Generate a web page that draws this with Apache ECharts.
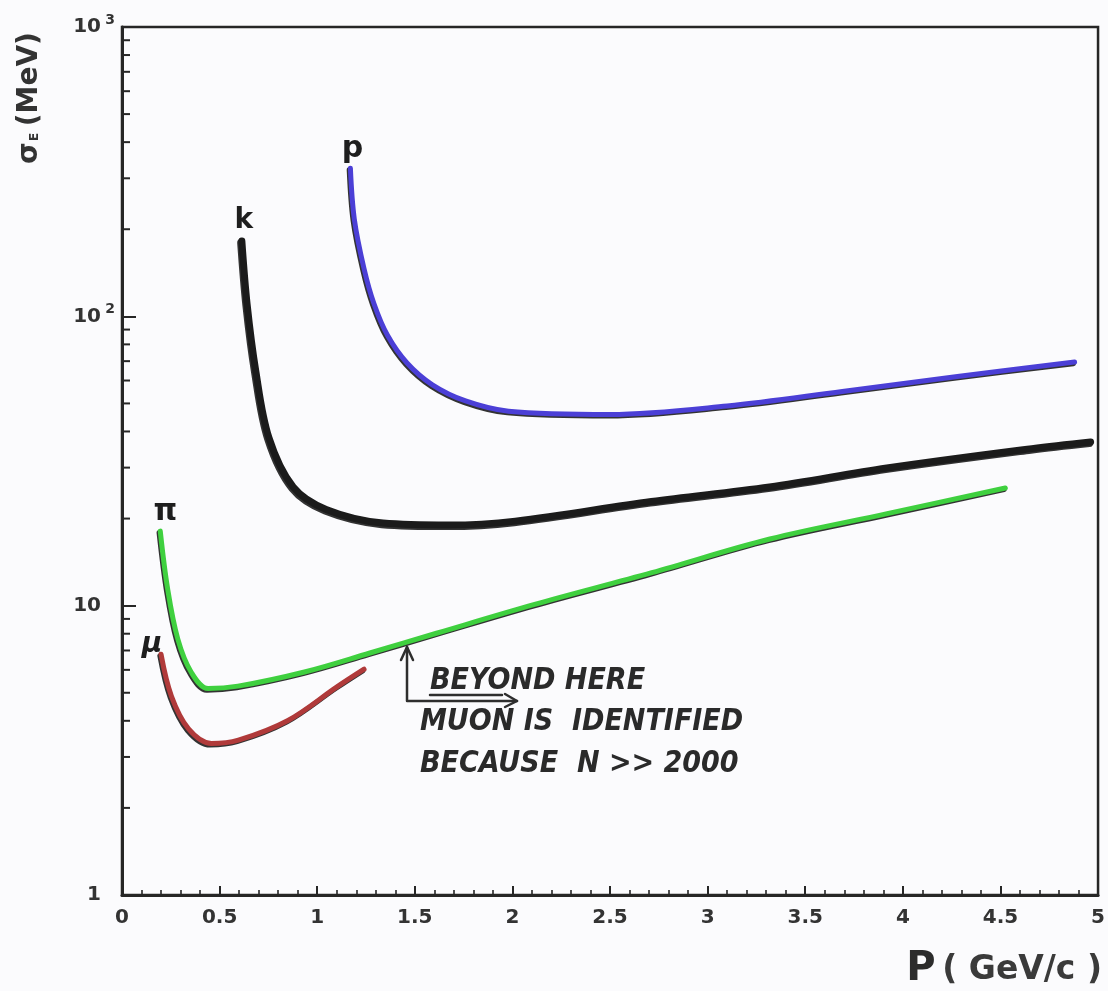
<!DOCTYPE html>
<html>
<head>
<meta charset="utf-8">
<script src="https://cdn.jsdelivr.net/npm/echarts@6/dist/echarts.min.js"></script>
<style>
  html, body { margin: 0; padding: 0; background: #fbfbfd; }
  #chart { width: 1108px; height: 991px; }
</style>
</head>
<body>
<div id="chart"></div>
<script>
// Energy resolution sigma_E (MeV) versus momentum P (GeV/c) for each particle type.
const protonCurve = [[1.17, 325], [1.19, 217], [1.24, 146], [1.29, 111], [1.36, 86], [1.46, 69],
  [1.59, 58], [1.76, 51], [1.98, 47], [2.5, 45.8], [3.1, 49], [3.69, 55], [4.28, 62], [4.88, 69.5]];
const kaonCurve = [[0.614, 182], [0.641, 110], [0.685, 65], [0.753, 38], [0.877, 25.7], [1.046, 21.5],
  [1.337, 19.3], [1.673, 19.0], [2.015, 19.6], [2.712, 22.9], [3.317, 25.7], [3.918, 29.9], [4.661, 34.9], [4.962, 36.8]];
const pionCurve = [[0.196, 18.1], [0.234, 11.4], [0.286, 7.66], [0.354, 5.9], [0.441, 5.17], [0.594, 5.27],
  [0.935, 5.9], [1.27, 6.86], [1.611, 8.03], [2.114, 10.1], [2.714, 13.0], [3.319, 17.0], [3.92, 20.8], [4.525, 25.5]];
const muonCurve = [[0.2, 6.79], [0.253, 4.87], [0.341, 3.75], [0.458, 3.34], [0.596, 3.43],
  [0.85, 4.01], [1.103, 5.25], [1.24, 6.03]];

const curveNames = ['p', 'k', 'π', 'μ'];
const yTickLabels = { 1: '1{gap|}', 10: '10{gap|}', 100: '10{sup|2}', 1000: '10{sup|3}' };
const yDecades = [1, 10, 100];
const yMinorMultipliers = [2, 3, 4, 5, 6, 7, 8, 9];
const annotationMomentum = 1.46;
const annotationLines = ['BEYOND HERE', 'MUON IS  IDENTIFIED', 'BECAUSE  N >> 2000'];

const INK = '#262626';
const labelFont = '"DejaVu Sans", sans-serif';

// log-axis minor ticks at 2..9 of every decade
const yMinorTicks = [];
yDecades.forEach(d => yMinorMultipliers.forEach(m => yMinorTicks.push([0, d * m])));

function curveSeries(name, data, color, width) {
  return {
    name, type: 'line', data, smooth: 0.35, showSymbol: false, symbol: 'none',
    lineStyle: {
      color, width, cap: 'round', join: 'round',
      shadowColor: 'rgba(15,15,15,0.85)', shadowBlur: 0, shadowOffsetX: -1.2, shadowOffsetY: 1.6
    },
    z: 3
  };
}

const chart = echarts.init(document.getElementById('chart'), null, { renderer: 'canvas' });

chart.setOption({
  backgroundColor: '#fbfbfd',
  animation: false,
  grid: { left: 122, right: 5, top: 27, bottom: 96, show: true, borderColor: INK, borderWidth: 2.5 },
  xAxis: {
    type: 'value', min: 0, max: 5, interval: 0.5,
    axisLine: { lineStyle: { color: INK, width: 3 } },
    axisTick: { inside: true, length: 9, lineStyle: { color: INK, width: 2 } },
    minorTick: { show: true, splitNumber: 5, length: 5, lineStyle: { color: INK, width: 1.6 } },
    splitLine: { show: false },
    axisLabel: {
      margin: 13, color: '#333', fontFamily: labelFont, fontWeight: 'bold', fontSize: 20,
      formatter: v => String(v)
    }
  },
  yAxis: {
    type: 'log', logBase: 10, min: 1, max: 1000,
    axisLine: { lineStyle: { color: INK, width: 3 } },
    axisTick: { inside: true, length: 14, lineStyle: { color: INK, width: 2 } },
    minorTick: { show: false },
    splitLine: { show: false },
    axisLabel: {
      margin: 7, color: '#333', fontFamily: labelFont, fontWeight: 'bold', fontSize: 20,
      formatter: v => yTickLabels[Math.round(v)] || '',
      rich: {
        sup: { fontFamily: labelFont, fontWeight: 'bold', fontSize: 14, color: '#333', width: 13, padding: [0, 0, 14, 1] },
        gap: { width: 14 }
      }
    }
  },
  series: [
    {
      type: 'custom', name: 'minor ticks', data: yMinorTicks, encode: { x: 0, y: 1 }, silent: true, z: 4,
      renderItem: (params, api) => {
        const p = api.coord([0, api.value(1)]);
        return { type: 'line', shape: { x1: p[0], y1: p[1], x2: p[0] + 8, y2: p[1] },
          style: { stroke: INK, lineWidth: 2 } };
      }
    },
    curveSeries('p', protonCurve, '#4b3fd6', 5),
    curveSeries('k', kaonCurve, '#1b1b1b', 7),
    curveSeries('π', pionCurve, '#3fd03f', 5),
    curveSeries('μ', muonCurve, '#b03a3a', 5),
    {
      type: 'scatter', name: 'curve labels', symbolSize: 0, silent: true, z: 5,
      itemStyle: { opacity: 1 },
      data: [
        { value: protonCurve[0], label: { formatter: curveNames[0], fontSize: 30, offset: [2, 0] } },
        { value: kaonCurve[0], label: { formatter: curveNames[1], fontSize: 28, offset: [2, -2] } },
        { value: pionCurve[0], label: { formatter: curveNames[2], fontSize: 30, offset: [5, 0] } },
        { value: muonCurve[0], label: { formatter: curveNames[3], fontSize: 28, fontStyle: 'italic', offset: [-9, 8] } }
      ],
      label: { show: true, position: 'top', distance: 4, color: '#1e1e1e', fontFamily: labelFont, fontWeight: 'bold' }
    }
  ]
});

// value of the pion curve at a given momentum (log-linear between read points)
function pionAt(p) {
  for (let i = 1; i < pionCurve.length; i++) {
    const [x0, y0] = pionCurve[i - 1], [x1, y1] = pionCurve[i];
    if (p >= x0 && p <= x1) {
      const t = (p - x0) / (x1 - x0);
      return Math.pow(10, Math.log10(y0) + t * (Math.log10(y1) - Math.log10(y0)));
    }
  }
  return pionCurve[pionCurve.length - 1][1];
}

const tip = chart.convertToPixel({ gridIndex: 0 }, [annotationMomentum, pionAt(annotationMomentum)]);
const tx = tip[0], ty = tip[1] + 5;
const handFont = 'italic bold 30px "DejaVu Sans Condensed", "DejaVu Sans", sans-serif';
const pen = { stroke: '#2e2e2e', lineWidth: 2.5, fill: null, lineCap: 'round', lineJoin: 'round' };

chart.setOption({
  graphic: [
    // y axis title
    {
      type: 'text', x: 30, y: 98, rotation: Math.PI / 2, z: 10,
      style: {
        text: '{s|σ}{e|E}  {s|(MeV)}', align: 'center', verticalAlign: 'middle',
        rich: {
          s: { fontFamily: labelFont, fontWeight: 'bold', fontSize: 28, fill: '#333' },
          e: { fontFamily: labelFont, fontWeight: 'bold', fontSize: 12, fill: '#333', padding: [10, 0, 0, 1] }
        }
      }
    },
    // x axis title
    {
      type: 'text', x: 1102, y: 970, z: 10,
      style: {
        text: '{p|P}  {t|( GeV/c )}', align: 'right', verticalAlign: 'middle',
        rich: {
          p: { fontFamily: labelFont, fontWeight: 'bold', fontSize: 40, fill: '#2c2c2c' },
          t: { fontFamily: labelFont, fontWeight: 'bold', fontSize: 33, fill: '#3a3a3a' }
        }
      }
    },
    // arrow from the note up to the pion curve
    { type: 'polyline', z: 10, shape: { points: [[tx, ty], [tx, ty + 54], [tx + 110, ty + 54]] }, style: pen },
    { type: 'polyline', z: 10, shape: { points: [[tx - 6, ty + 13], [tx, ty], [tx + 6, ty + 13]] }, style: pen },
    { type: 'polyline', z: 10, shape: { points: [[tx + 98, ty + 47], [tx + 110, ty + 54], [tx + 98, ty + 60]] }, style: pen },
    { type: 'line', z: 10, shape: { x1: tx + 23, y1: ty + 48, x2: tx + 95, y2: ty + 48 }, style: pen },
    ...annotationLines.map((line, i) => ({
      type: 'text', z: 10,
      x: tx + (i === 0 ? 23 : 13), y: ty + 34 + i * 41.5,
      style: { text: line, font: handFont, fill: '#2a2a2a', verticalAlign: 'middle', align: 'left' }
    }))
  ]
});
</script>
</body>
</html>
